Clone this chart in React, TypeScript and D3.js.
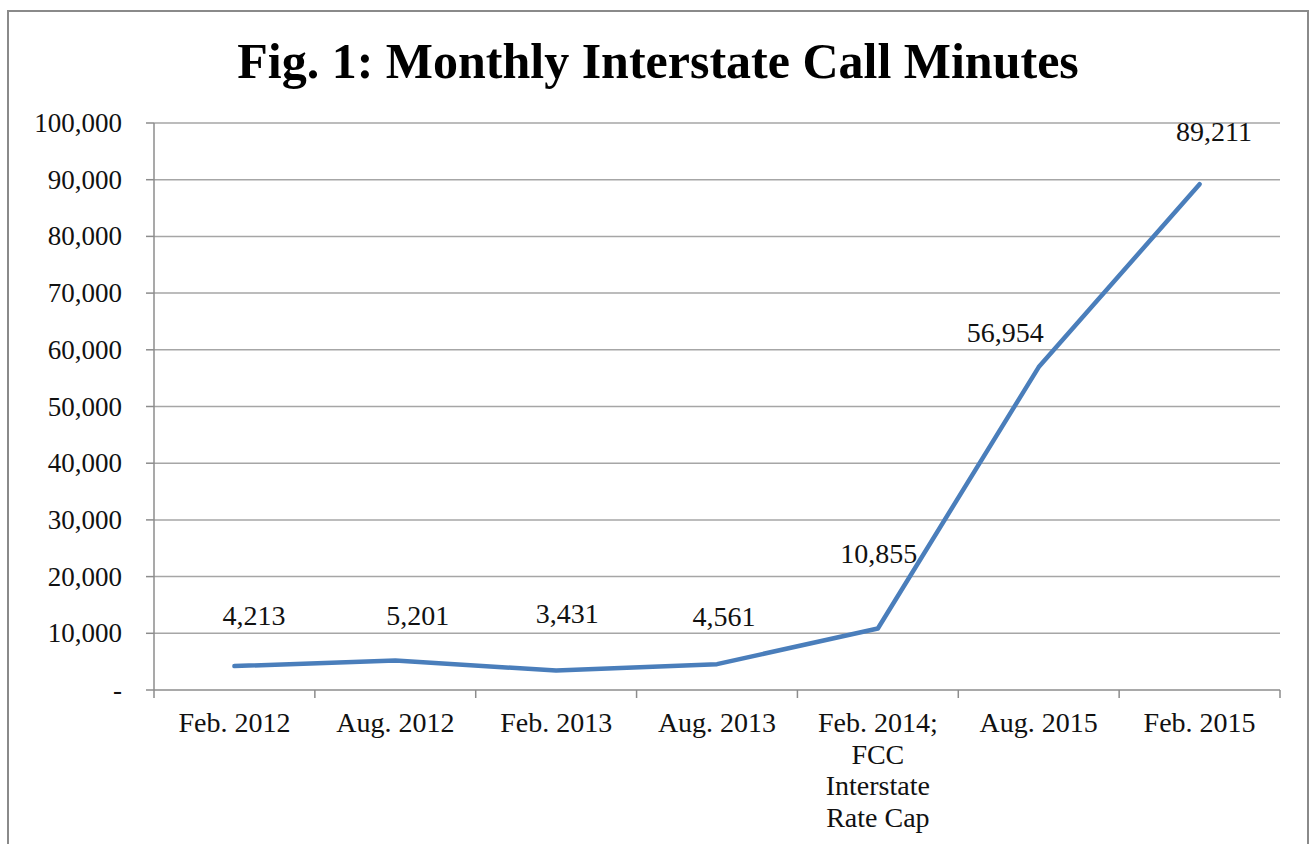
import React, { useEffect, useRef } from 'react';
import * as d3 from 'd3';

// chart data
const categories = ['Feb. 2012', 'Aug. 2012', 'Feb. 2013', 'Aug. 2013', 'Feb. 2014', 'Aug. 2015', 'Feb. 2015'];
const categoryLines = [
  ['Feb. 2012'],
  ['Aug. 2012'],
  ['Feb. 2013'],
  ['Aug. 2013'],
  ['Feb. 2014;', 'FCC', 'Interstate', 'Rate Cap'],
  ['Aug. 2015'],
  ['Feb. 2015'],
];
const minutes = [4213, 5201, 3431, 4561, 10855, 56954, 89211];
const yTicks = [0, 10000, 20000, 30000, 40000, 50000, 60000, 70000, 80000, 90000, 100000];
const title = 'Fig. 1: Monthly Interstate Call Minutes';

// hand-placed data label nudges (px from the point to the label baseline)
const labelNudge: [number, number][] = [
  [19.5, -41], [22.5, -35.5], [11, -47.5], [7, -38], [1, -65.5], [-33.5, -25], [14.5, -43],
];

const W = 1310;
const H = 844;
const margin = { top: 123, right: 30, bottom: 154, left: 154 };
const FONT = "'Liberation Serif', 'Times New Roman', serif";

const App = () => {
  const ref = useRef<SVGSVGElement>(null);

  useEffect(() => {
    const svg = d3.select(ref.current);
    svg.selectAll('*').remove();

    const x = d3.scaleBand().domain(categories).range([margin.left, W - margin.right]);
    const y = d3.scaleLinear().domain([0, 100000]).range([H - margin.bottom, margin.top]);
    const fmt = d3.format(',');

    // outer frame
    svg.append('rect')
      .attr('x', 8).attr('y', 11)
      .attr('width', 1300).attr('height', 850)
      .attr('fill', 'white')
      .attr('stroke', '#8a8a8a')
      .attr('stroke-width', 2);

    svg.append('text')
      .attr('x', 658).attr('y', 78)
      .attr('text-anchor', 'middle')
      .style('font-family', FONT)
      .style('font-weight', 'bold')
      .style('font-size', '50px')
      .text(title);

    const x0 = margin.left;
    const x1 = W - margin.right;
    const yb = y(0);

    // gridlines + y ticks
    const gy = svg.append('g');
    yTicks.forEach((t) => {
      if (t > 0) {
        gy.append('line')
          .attr('x1', x0).attr('x2', x1)
          .attr('y1', y(t)).attr('y2', y(t))
          .attr('stroke', '#a6a6a6').attr('stroke-width', 1.5);
      }
      gy.append('line')
        .attr('x1', x0 - 8).attr('x2', x0)
        .attr('y1', y(t)).attr('y2', y(t))
        .attr('stroke', '#8c8c8c').attr('stroke-width', 1.5);
      gy.append('text')
        .attr('x', 122).attr('y', y(t) + 9)
        .attr('text-anchor', 'end')
        .style('font-family', FONT)
        .style('font-size', '27px')
        .attr('fill', '#111')
        .text(t === 0 ? '-' : fmt(t));
    });

    // axes
    svg.append('line')
      .attr('x1', x0).attr('x2', x0)
      .attr('y1', y(100000)).attr('y2', yb)
      .attr('stroke', '#8c8c8c').attr('stroke-width', 1.5);
    svg.append('line')
      .attr('x1', x0).attr('x2', x1)
      .attr('y1', yb).attr('y2', yb)
      .attr('stroke', '#8c8c8c').attr('stroke-width', 1.5);

    const bounds = categories.map((c) => x(c) as number).concat([x1]);
    bounds.forEach((b) => {
      svg.append('line')
        .attr('x1', b).attr('x2', b)
        .attr('y1', yb).attr('y2', yb + 8)
        .attr('stroke', '#8c8c8c').attr('stroke-width', 1.5);
    });

    // category labels
    categories.forEach((c, i) => {
      const t = svg.append('text')
        .attr('text-anchor', 'middle')
        .style('font-family', FONT)
        .style('font-size', '28px')
        .attr('fill', '#111');
      categoryLines[i].forEach((line, j) => {
        t.append('tspan')
          .attr('x', (x(c) as number) + x.bandwidth() / 2)
          .attr('y', 732 + j * 31.7)
          .text(line);
      });
    });

    const cx = (i: number) => (x(categories[i]) as number) + x.bandwidth() / 2;

    const line = d3.line<number>()
      .x((_, i) => cx(i))
      .y((d) => y(d));

    svg.append('path')
      .datum(minutes)
      .attr('d', line)
      .attr('fill', 'none')
      .attr('stroke', '#4a7ebb')
      .attr('stroke-width', 4.5)
      .attr('stroke-linejoin', 'round')
      .attr('stroke-linecap', 'round');

    // data labels
    minutes.forEach((v, i) => {
      svg.append('text')
        .attr('x', cx(i) + labelNudge[i][0])
        .attr('y', y(v) + labelNudge[i][1])
        .attr('text-anchor', 'middle')
        .style('font-family', FONT)
        .style('font-size', '28px')
        .attr('fill', '#111')
        .text(fmt(v));
    });
  }, []);

  return (
    <svg ref={ref} width={W} height={H}
      style={{ position: 'absolute', left: 0, top: 0, background: 'white' }} />
  );
};

export default App;
